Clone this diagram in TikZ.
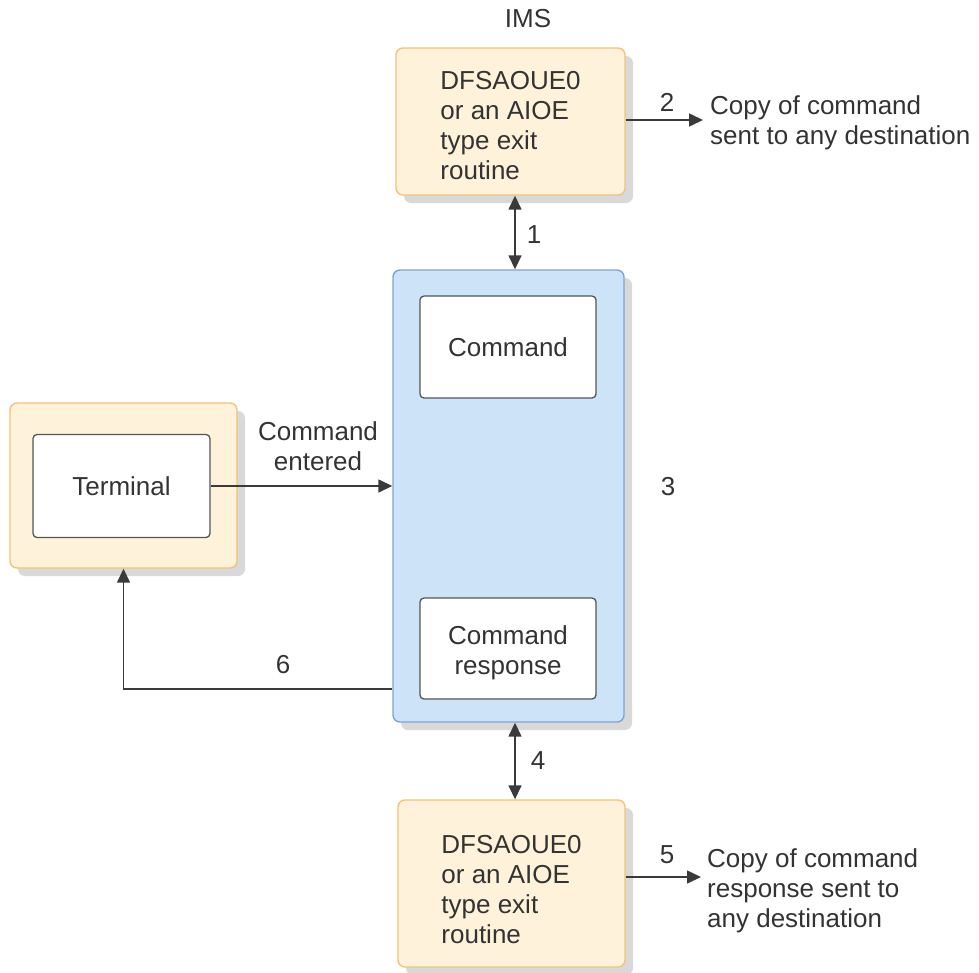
\documentclass[tikz,border=0pt]{standalone}
\usepackage{fontspec}
\setmainfont{Liberation Sans}
\usetikzlibrary{arrows.meta,shadows}
\definecolor{txt}{HTML}{333333}
\definecolor{ln}{HTML}{3A3A3A}
\definecolor{orfill}{HTML}{FEF3DA}
\definecolor{ordraw}{HTML}{F2C27A}
\definecolor{blfill}{HTML}{CDE3F7}
\definecolor{bldraw}{HTML}{7FA3D6}
\definecolor{shd}{HTML}{D9D9D9}
\definecolor{inndraw}{HTML}{555555}
\tikzset{
  lbl/.style={font=\fontsize{26}{30}\selectfont, text=txt, inner sep=0pt},
  shad/.style={drop shadow={shadow xshift=8pt, shadow yshift=-8pt, fill=shd, opacity=1}},
  orbox/.style={draw=ordraw, fill=orfill, line width=1.4pt, rounded corners=7pt, shad},
  blbox/.style={draw=bldraw, fill=blfill, line width=1.4pt, rounded corners=7pt, shad},
  inbox/.style={draw=inndraw, fill=white, line width=1.3pt, rounded corners=4pt, lbl, align=center},
  arr/.style={draw=ln, line width=1.5pt, -{Triangle[length=14pt,width=13pt]}},
  dbl/.style={draw=ln, line width=1.5pt, {Triangle[length=14pt,width=13pt]}-{Triangle[length=14pt,width=13pt]}}
}
\begin{document}
\begin{tikzpicture}[x=1pt,y=-1pt]
\useasboundingbox (0,0) rectangle (979,972);
% boxes
\node[orbox, minimum width=229pt, minimum height=147pt] (top) at (510.5,121.5) {};
\node[lbl, align=left] (toptxt) at ([yshift=-4pt]top.center)
  {DFSAOUE0\\or an AIOE\\type exit\\routine};
\node[blbox, minimum width=231pt, minimum height=452pt] (blue) at (508.5,496) {};
\node[inbox, minimum width=176pt, minimum height=102pt] (cmd) at (508,347) {Command};
\node[inbox, minimum width=176pt, minimum height=101pt] (resp) at (508,648.5) {};
\node[lbl, align=center] (resptxt) at ([yshift=-4pt]resp.center) {Command\\response};
\node[orbox, minimum width=227pt, minimum height=165pt] (termout) at (123.5,485.5) {};
\node[inbox, minimum width=177pt, minimum height=103pt] (term) at (121.5,486) {Terminal};
\node[orbox, minimum width=227pt, minimum height=167pt] (bot) at (511.5,883.5) {};
\node[lbl, align=left] (bottxt) at ([yshift=-6pt]bot.center)
  {DFSAOUE0\\or an AIOE\\type exit\\routine};
% helper coordinates
\coordinate (ax) at (515,0);
\coordinate (y2) at (0,120);
\coordinate (y5) at (0,877);
\coordinate (y6) at (0,689);
\coordinate (e2) at (703,120);
\coordinate (e5) at (701,877);
% connectors
\draw[dbl] (top.south -| ax) -- (blue.north -| ax);
\draw[dbl] (blue.south -| ax) -- (bot.north -| ax);
\draw[arr] (term.east) -- (term.east -| blue.west);
\draw[arr] (y6 -| blue.west) -| (termout.south);
\draw[arr] (y2 -| top.east) -- (e2);
\draw[arr] (y5 -| bot.east) -- (e5);
% labels
\node[lbl] (ims) at (528,19) {IMS};
\node[lbl] (l1) at (534,235) {1};
\node[lbl] (l2) at (667,102) {2};
\node[lbl] (l3) at (668,487) {3};
\node[lbl] (l4) at (538,761) {4};
\node[lbl] (l5) at (667,855) {5};
\node[lbl] (l6) at (283,665) {6};
\node[lbl, align=center] (ce) at (318,446) {Command\\entered};
\node[lbl, align=left, anchor=west] (c2) at (710,123) {Copy of command\\sent to any destination};
\node[lbl, align=left, anchor=west] (c5) at (707,891) {Copy of command\\response sent to\\any destination};
\end{tikzpicture}
\end{document}
